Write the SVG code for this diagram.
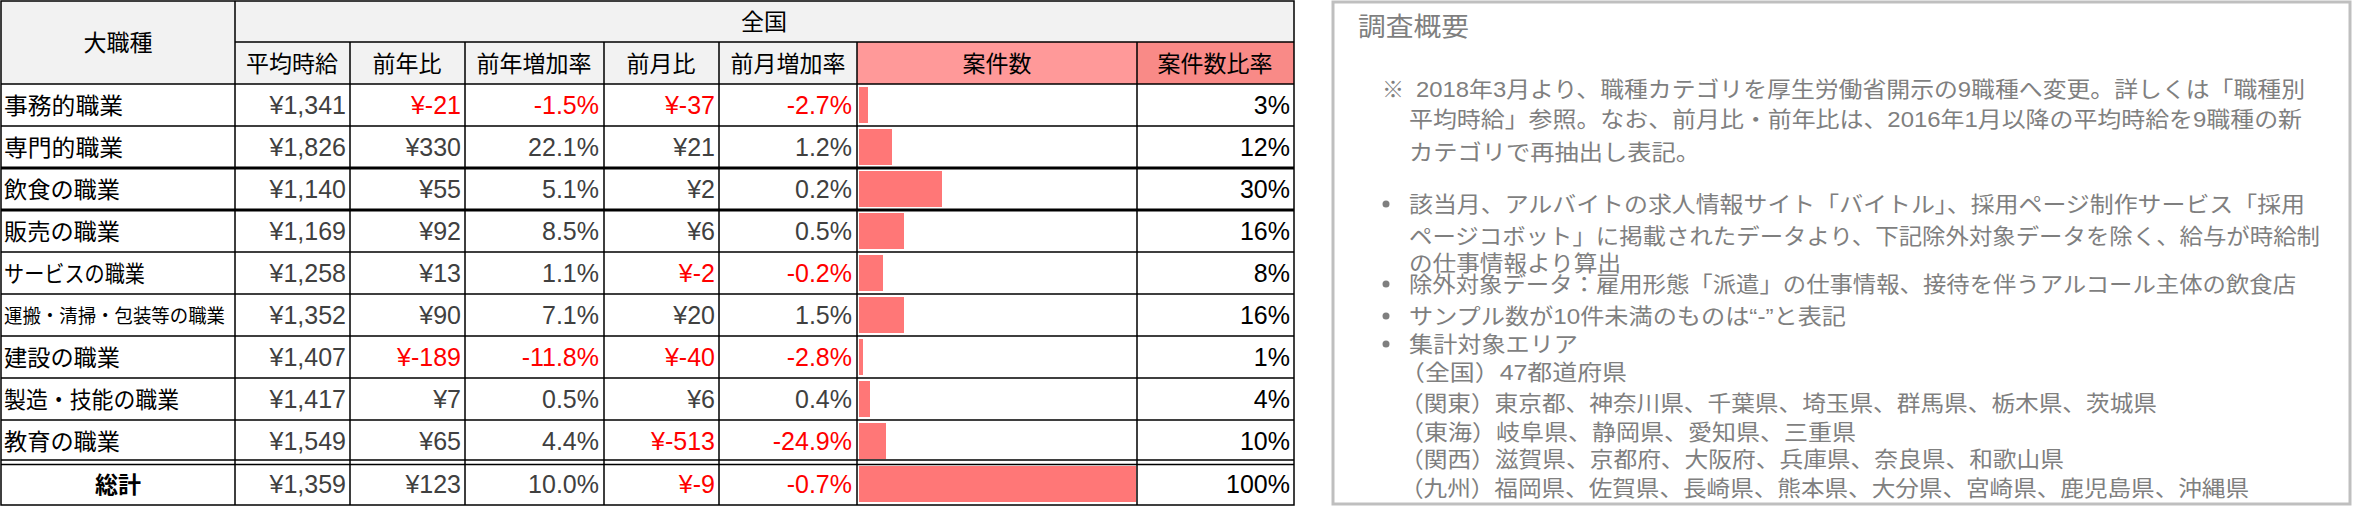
<svg xmlns="http://www.w3.org/2000/svg" width="2357" height="507" viewBox="0 0 2357 507">
<style>
.t{font-family:"Liberation Sans","Noto Sans CJK JP",sans-serif;}
.h{font-size:23px;fill:#000;text-anchor:middle;}
.c{font-size:23px;fill:#000;}
.n{font-size:25px;fill:#404040;text-anchor:end;}
.r{fill:#ff0000;}
.k{fill:#000;}
.bar{fill:#ff7777;}
.p{font-size:22px;fill:#7f7f7f;}
.g{stroke:#000;stroke-width:1.5;fill:none;}
</style>
<rect width="2357" height="507" fill="#fff"/>
<g id="table">
<rect x="1" y="1" width="1293" height="83" fill="#f2f2f2"/>
<rect x="857" y="42" width="280" height="42" fill="#ff9999"/>
<rect x="1137" y="42" width="157" height="42" fill="#f98a87"/>
<g class="t">
<text class="h" x="118" y="51">大職種</text>
<text class="h" x="764" y="30">全国</text>
<text class="h" x="292" y="72">平均時給</text>
<text class="h" x="407" y="72">前年比</text>
<text class="h" x="534" y="72">前年増加率</text>
<text class="h" x="661" y="72">前月比</text>
<text class="h" x="788" y="72">前月増加率</text>
<text class="h" x="997" y="72">案件数</text>
<text class="h" x="1215" y="72">案件数比率</text>
</g>
<g id="bars">
<rect class="bar" x="859" y="87" width="9" height="36"/>
<rect class="bar" x="859" y="129" width="33" height="36"/>
<rect class="bar" x="859" y="171" width="83" height="36"/>
<rect class="bar" x="859" y="213" width="45" height="36"/>
<rect class="bar" x="859" y="255" width="24" height="36"/>
<rect class="bar" x="859" y="297" width="45" height="36"/>
<rect class="bar" x="859" y="339" width="4" height="36"/>
<rect class="bar" x="859" y="381" width="11" height="36"/>
<rect class="bar" x="859" y="423" width="27" height="36"/>
<rect class="bar" x="859" y="466" width="277" height="36"/>
</g>
<g class="t">
<text class="c" x="4" y="114" textLength="119" lengthAdjust="spacingAndGlyphs">事務的職業</text>
<text class="c" x="4" y="156" textLength="119" lengthAdjust="spacingAndGlyphs">専門的職業</text>
<text class="c" x="4" y="198" textLength="116" lengthAdjust="spacingAndGlyphs">飲食の職業</text>
<text class="c" x="4" y="240" textLength="116" lengthAdjust="spacingAndGlyphs">販売の職業</text>
<text class="c" x="4" y="282" textLength="141" lengthAdjust="spacingAndGlyphs">サービスの職業</text>
<text class="c" x="4" y="323" style="font-size:19px" textLength="221" lengthAdjust="spacingAndGlyphs">運搬・清掃・包装等の職業</text>
<text class="c" x="4" y="366" textLength="116" lengthAdjust="spacingAndGlyphs">建設の職業</text>
<text class="c" x="4" y="408" textLength="175" lengthAdjust="spacingAndGlyphs">製造・技能の職業</text>
<text class="c" x="4" y="450" textLength="116" lengthAdjust="spacingAndGlyphs">教育の職業</text>
<text class="h" x="118" y="493" style="font-weight:bold">総計</text>

<text class="n" x="346" y="114">¥1,341</text><text class="n r" x="461" y="114">¥-21</text><text class="n r" x="599" y="114">-1.5%</text><text class="n r" x="715" y="114">¥-37</text><text class="n r" x="852" y="114">-2.7%</text><text class="n k" x="1290" y="114">3%</text>
<text class="n" x="346" y="156">¥1,826</text><text class="n" x="461" y="156">¥330</text><text class="n" x="599" y="156">22.1%</text><text class="n" x="715" y="156">¥21</text><text class="n" x="852" y="156">1.2%</text><text class="n k" x="1290" y="156">12%</text>
<text class="n" x="346" y="198">¥1,140</text><text class="n" x="461" y="198">¥55</text><text class="n" x="599" y="198">5.1%</text><text class="n" x="715" y="198">¥2</text><text class="n" x="852" y="198">0.2%</text><text class="n k" x="1290" y="198">30%</text>
<text class="n" x="346" y="240">¥1,169</text><text class="n" x="461" y="240">¥92</text><text class="n" x="599" y="240">8.5%</text><text class="n" x="715" y="240">¥6</text><text class="n" x="852" y="240">0.5%</text><text class="n k" x="1290" y="240">16%</text>
<text class="n" x="346" y="282">¥1,258</text><text class="n" x="461" y="282">¥13</text><text class="n" x="599" y="282">1.1%</text><text class="n r" x="715" y="282">¥-2</text><text class="n r" x="852" y="282">-0.2%</text><text class="n k" x="1290" y="282">8%</text>
<text class="n" x="346" y="324">¥1,352</text><text class="n" x="461" y="324">¥90</text><text class="n" x="599" y="324">7.1%</text><text class="n" x="715" y="324">¥20</text><text class="n" x="852" y="324">1.5%</text><text class="n k" x="1290" y="324">16%</text>
<text class="n" x="346" y="366">¥1,407</text><text class="n r" x="461" y="366">¥-189</text><text class="n r" x="599" y="366">-11.8%</text><text class="n r" x="715" y="366">¥-40</text><text class="n r" x="852" y="366">-2.8%</text><text class="n k" x="1290" y="366">1%</text>
<text class="n" x="346" y="408">¥1,417</text><text class="n" x="461" y="408">¥7</text><text class="n" x="599" y="408">0.5%</text><text class="n" x="715" y="408">¥6</text><text class="n" x="852" y="408">0.4%</text><text class="n k" x="1290" y="408">4%</text>
<text class="n" x="346" y="450">¥1,549</text><text class="n" x="461" y="450">¥65</text><text class="n" x="599" y="450">4.4%</text><text class="n r" x="715" y="450">¥-513</text><text class="n r" x="852" y="450">-24.9%</text><text class="n k" x="1290" y="450">10%</text>
<text class="n" x="346" y="493">¥1,359</text><text class="n" x="461" y="493">¥123</text><text class="n" x="599" y="493">10.0%</text><text class="n r" x="715" y="493">¥-9</text><text class="n r" x="852" y="493">-0.7%</text><text class="n k" x="1290" y="493">100%</text>
</g>
<g id="grid" class="g">
<rect x="1" y="1" width="1293" height="504"/>
<path d="M235 1V505M350 42V505M465 42V505M604 42V505M719 42V505M857 42V505M1137 42V505M235 42H1294M1 84H1294M1 126H1294M1 252H1294M1 294H1294M1 336H1294M1 378H1294M1 420H1294M1 460H1294M1 464.5H1294"/>
<path d="M1 168H1294M1 210H1294" stroke-width="3"/>
</g>
</g>
<g id="panel">
<rect x="1333" y="2" width="1017" height="502" fill="#fff" stroke="#bfbfbf" stroke-width="3"/>
<g class="t">
<text class="p" x="1358" y="36" style="font-size:26px" textLength="111" lengthAdjust="spacingAndGlyphs">調査概要</text>
<text class="p" x="1382" y="97">※</text>
<text class="p" x="1416" y="97" textLength="889" lengthAdjust="spacingAndGlyphs">2018年3月より、職種カテゴリを厚生労働省開示の9職種へ変更。詳しくは「職種別</text>
<text class="p" x="1409" y="127" textLength="893" lengthAdjust="spacingAndGlyphs">平均時給」参照。なお、前月比・前年比は、2016年1月以降の平均時給を9職種の新</text>
<text class="p" x="1409" y="160" textLength="291" lengthAdjust="spacingAndGlyphs">カテゴリで再抽出し表記。</text>
<circle cx="1386" cy="204" r="3.5" fill="#7f7f7f"/>
<text class="p" x="1409" y="212" textLength="896" lengthAdjust="spacingAndGlyphs">該当月、アルバイトの求人情報サイト「バイトル」、採用ページ制作サービス「採用</text>
<text class="p" x="1409" y="244" textLength="911" lengthAdjust="spacingAndGlyphs">ページコボット」に掲載されたデータより、下記除外対象データを除く、給与が時給制</text>
<text class="p" x="1409" y="271" textLength="212" lengthAdjust="spacingAndGlyphs">の仕事情報より算出</text>
<circle cx="1386" cy="284" r="3.5" fill="#7f7f7f"/>
<text class="p" x="1409" y="292" textLength="887" lengthAdjust="spacingAndGlyphs">除外対象データ：雇用形態「派遣」の仕事情報、接待を伴うアルコール主体の飲食店</text>
<circle cx="1386" cy="316" r="3.5" fill="#7f7f7f"/>
<text class="p" x="1409" y="324" textLength="437" lengthAdjust="spacingAndGlyphs">サンプル数が10件未満のものは“-”と表記</text>
<circle cx="1386" cy="344" r="3.5" fill="#7f7f7f"/>
<text class="p" x="1409" y="352" textLength="169" lengthAdjust="spacingAndGlyphs">集計対象エリア</text>
<text class="p" x="1400" y="380" textLength="227" lengthAdjust="spacingAndGlyphs">（全国）47都道府県</text>
<text class="p" x="1400" y="411" textLength="757" lengthAdjust="spacingAndGlyphs">（関東）東京都、神奈川県、千葉県、埼玉県、群馬県、栃木県、茨城県</text>
<text class="p" x="1400" y="440" textLength="456" lengthAdjust="spacingAndGlyphs">（東海）岐阜県、静岡県、愛知県、三重県</text>
<text class="p" x="1400" y="467" textLength="664" lengthAdjust="spacingAndGlyphs">（関西）滋賀県、京都府、大阪府、兵庫県、奈良県、和歌山県</text>
<text class="p" x="1400" y="496" textLength="849" lengthAdjust="spacingAndGlyphs">（九州）福岡県、佐賀県、長崎県、熊本県、大分県、宮崎県、鹿児島県、沖縄県</text>
</g>
</g>
</svg>
